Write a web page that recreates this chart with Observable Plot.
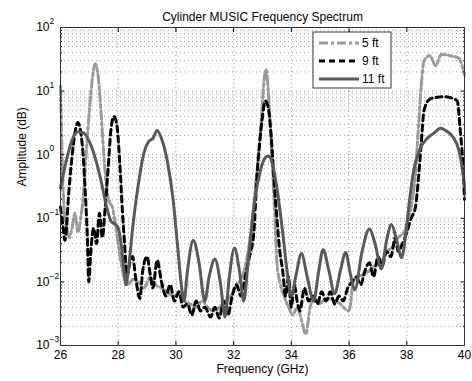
<!DOCTYPE html>
<html><head><meta charset="utf-8">
<script src="https://cdn.jsdelivr.net/npm/d3@7"></script>
<script src="https://cdn.jsdelivr.net/npm/@observablehq/plot@0.6"></script>
<style>body{margin:0;background:#fff}</style>
</head><body><div id="chart"></div>
<script>
const title = "Cylinder MUSIC Frequency Spectrum";
const xLabel = "Frequency (GHz)";
const yLabel = "Amplitude (dB)";
const xTicks = [26, 28, 30, 32, 34, 36, 38, 40];
const yExponents = [-3, -2, -1, 0, 1, 2];
const yExponentLabels = ["−3", "−2", "−1", "0", "1", "2"];
const seriesNames = ["5 ft", "9 ft", "11 ft"];

const freq5 = [26.0,26.03,26.07,26.12,26.2,26.3,26.4,26.5,26.6,26.7,26.8,26.9,27.0,27.1,27.2,27.3,27.4,27.5,27.6,27.7,27.8,27.9,28.0,28.1,28.2,28.35,28.5,28.7,28.9,29.1,29.3,29.5,29.7,29.9,30.1,30.3,30.5,30.7,30.9,31.1,31.3,31.5,31.7,31.9,32.1,32.3,32.5,32.65,32.8,32.95,33.05,33.12,33.2,33.3,33.4,33.5,33.6,33.75,33.9,34.05,34.2,34.35,34.5,34.65,34.8,34.95,35.1,35.3,35.5,35.7,35.85,36.0,36.15,36.3,36.5,36.7,36.9,37.1,37.3,37.5,37.7,37.9,38.05,38.2,38.3,38.4,38.5,38.6,38.8,39.0,39.2,39.5,39.8,40.0];
const amp5 = [12,3,0.5,0.15,0.08,0.05,0.07,0.12,0.06,0.1,0.25,1.2,5,15,27,18,5,1,0.3,0.18,0.15,0.08,0.04,0.02,0.012,0.009,0.011,0.01,0.008,0.012,0.009,0.008,0.007,0.006,0.0065,0.005,0.0045,0.004,0.005,0.004,0.0035,0.004,0.005,0.006,0.009,0.012,0.03,0.1,0.5,3,14,22,10,1.5,0.2,0.02,0.01,0.006,0.004,0.003,0.004,0.0025,0.0015,0.004,0.0055,0.0045,0.005,0.0055,0.005,0.0045,0.0038,0.0035,0.01,0.012,0.013,0.015,0.018,0.02,0.03,0.035,0.05,0.06,0.1,0.2,0.5,2.5,12,30,36,25,38,36,33,18];

const freq9 = [26.0,26.08,26.15,26.3,26.45,26.6,26.75,26.85,26.93,26.98,27.05,27.15,27.25,27.35,27.45,27.55,27.65,27.75,27.85,27.95,28.05,28.15,28.22,28.3,28.4,28.5,28.6,28.75,28.85,29.0,29.1,29.2,29.35,29.5,29.65,29.8,29.95,30.1,30.25,30.4,30.55,30.7,30.85,31.0,31.2,31.35,31.5,31.65,31.8,31.95,32.1,32.25,32.4,32.55,32.7,32.8,32.9,33.0,33.1,33.2,33.3,33.4,33.5,33.6,33.7,33.8,33.9,34.0,34.1,34.2,34.3,34.45,34.6,34.75,34.9,35.05,35.2,35.35,35.5,35.65,35.8,35.95,36.1,36.25,36.4,36.55,36.7,36.85,37.0,37.15,37.3,37.45,37.6,37.7,37.85,38.0,38.15,38.3,38.4,38.5,38.6,38.8,39.05,39.3,39.55,39.75,39.85,39.93,40.0];
const amp9 = [0.15,0.08,0.045,0.3,1.5,3.2,1.5,0.3,0.05,0.01,0.03,0.07,0.04,0.12,0.05,0.15,0.6,2.5,4.0,3.0,0.8,0.12,0.04,0.012,0.02,0.025,0.012,0.0055,0.015,0.025,0.014,0.008,0.022,0.01,0.006,0.009,0.005,0.007,0.004,0.0045,0.003,0.005,0.0035,0.004,0.0028,0.004,0.0027,0.005,0.003,0.006,0.009,0.006,0.012,0.025,0.06,0.4,1.5,4,7,5.5,2,0.4,0.1,0.03,0.015,0.006,0.012,0.004,0.009,0.005,0.0035,0.008,0.005,0.006,0.0045,0.007,0.005,0.007,0.0045,0.006,0.005,0.008,0.01,0.012,0.009,0.015,0.02,0.012,0.025,0.018,0.03,0.025,0.05,0.03,0.04,0.06,0.1,0.15,0.4,1.5,5,7.5,8,8.2,7.8,7,2.5,0.9,0.2];

const freq11 = [26.0,26.2,26.4,26.6,26.8,27.0,27.2,27.4,27.6,27.75,27.9,28.0,28.1,28.2,28.27,28.35,28.5,28.7,28.9,29.05,29.2,29.35,29.5,29.7,29.9,30.05,30.2,30.28,30.4,30.6,30.8,31.0,31.15,31.35,31.55,31.7,31.85,32.03,32.2,32.35,32.5,32.7,32.9,33.1,33.2,33.35,33.5,33.7,33.85,34.0,34.15,34.35,34.55,34.77,34.95,35.1,35.3,35.5,35.7,35.88,36.05,36.2,36.45,36.7,36.9,37.12,37.3,37.47,37.65,37.82,37.95,38.1,38.25,38.45,38.7,38.95,39.17,39.35,39.6,39.8,39.95,40.0];
const amp11 = [0.3,0.8,1.7,2.3,2.2,1.6,0.9,0.4,0.15,0.09,0.08,0.07,0.04,0.015,0.009,0.015,0.07,0.35,1.1,1.6,1.8,2.4,1.8,0.8,0.2,0.04,0.008,0.005,0.015,0.045,0.02,0.005,0.012,0.023,0.009,0.0028,0.012,0.034,0.015,0.005,0.02,0.15,0.5,0.9,0.95,0.7,0.3,0.06,0.015,0.006,0.012,0.028,0.012,0.005,0.015,0.032,0.015,0.0065,0.015,0.029,0.013,0.0075,0.03,0.068,0.04,0.016,0.045,0.08,0.045,0.024,0.05,0.2,0.6,1.2,1.8,2.2,2.6,2.4,1.9,1.2,0.5,0.3];

const seriesColors = ["#999999", "#000000", "#595959"];
const seriesDash = ["9,3,3,3", "6,4", null];

const freqs = [freq5, freq9, freq11];
const amps = [amp5, amp9, amp11];
const rows = seriesNames.map((name, i) => freqs[i].map((f, j) => ({series: name, f, a: amps[i][j]})));

const yTicks = yExponents.map(e => Math.pow(10, e));
const yMinor = [];
yExponents.slice(0, -1).forEach(e => { for (let m = 2; m <= 9; m++) yMinor.push(m * Math.pow(10, e)); });
const xInner = xTicks.slice(1, -1);

const gridStyle = {stroke: "#000", strokeOpacity: 0.38, strokeDasharray: "1,3", strokeWidth: 1};
const font = "Liberation Sans, Arial, Helvetica, sans-serif";

const plot = Plot.plot({
  width: 472, height: 381,
  marginLeft: 60, marginRight: 8, marginTop: 27, marginBottom: 36,
  style: {fontFamily: font, fontSize: "12px", background: "#fff", color: "#000"},
  x: {domain: [26, 40]},
  y: {type: "log", domain: [1e-3, 100]},
  marks: [
    Plot.ruleY(yMinor, gridStyle),
    Plot.ruleY(yTicks.slice(1, -1), gridStyle),
    Plot.ruleX(xInner, gridStyle),
    ...rows.map((r, i) => Plot.line(r, {x: "f", y: "a", stroke: seriesColors[i], strokeWidth: 3, strokeDasharray: seriesDash[i], curve: "monotone-x"})),
    Plot.axisX(xTicks, {anchor: "bottom", tickSize: -4, tickPadding: 9, label: null, fontSize: 12, tickFormat: d => String(d)}),
    Plot.axisX(xTicks, {anchor: "top", tickSize: -4, label: null, tickFormat: () => ""}),
    Plot.axisY(yTicks, {anchor: "left", tickSize: -4, label: null, tickFormat: () => ""}),
    Plot.axisY(yTicks, {anchor: "right", tickSize: -4, label: null, tickFormat: () => ""}),
    Plot.axisY(yMinor, {anchor: "left", tickSize: -2, label: null, tickFormat: () => ""}),
    Plot.axisY(yMinor, {anchor: "right", tickSize: -2, label: null, tickFormat: () => ""}),
    Plot.text(yTicks, {frameAnchor: "left", y: d => d, text: () => "10", dx: -11, textAnchor: "end", fontSize: 12}),
    Plot.text(yTicks, {frameAnchor: "left", y: d => d, text: (d, i) => yExponentLabels[i], dx: -11, dy: -6, textAnchor: "start", fontSize: 8.5}),
    Plot.frame({stroke: "#333"}),
    Plot.text([title], {frameAnchor: "top", dy: -15, fontSize: 12}),
    Plot.text([xLabel], {frameAnchor: "bottom", dy: 27, fontSize: 12}),
    Plot.text([yLabel], {frameAnchor: "left", dx: -38, rotate: -90, fontSize: 12})
  ]
});

// Legend box (upper right), drawn into Plot's SVG
const svg = d3.select(plot);
const lg = svg.append("g").attr("font-family", font).attr("font-size", 12).attr("text-anchor", "start");
const bx = 313, by = 32, bw = 78, bh = 56;
lg.append("rect").attr("x", bx).attr("y", by).attr("width", bw).attr("height", bh)
  .attr("fill", "#fff").attr("stroke", "#333");
seriesNames.forEach((name, i) => {
  const yy = by + 11 + i * 18;
  lg.append("line").attr("x1", bx + 6).attr("x2", bx + 46).attr("y1", yy).attr("y2", yy)
    .attr("stroke", seriesColors[i]).attr("stroke-width", 3)
    .attr("stroke-dasharray", seriesDash[i]);
  lg.append("text").attr("x", bx + 49).attr("y", yy).attr("dy", "0.35em")
    .attr("text-anchor", "start").text(name);
});

document.getElementById("chart").appendChild(plot);
</script>
</body></html>
